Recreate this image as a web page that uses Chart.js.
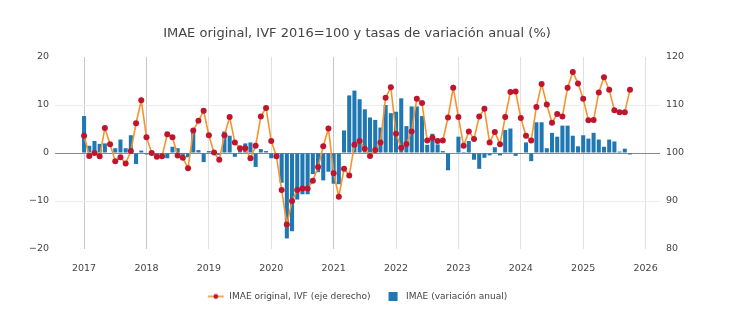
<!DOCTYPE html>
<html>
<head>
<meta charset="utf-8">
<script src="https://cdn.jsdelivr.net/npm/chart.js@4/dist/chart.umd.min.js"></script>
<style>
html,body{margin:0;padding:0;background:#fff;}
#wrap{width:730px;height:325px;position:relative;}
</style>
</head>
<body>
<div id="wrap"><canvas id="c" width="730" height="325"></canvas></div>
<script>
// IMAE original, IVF 2016=100 (right axis), monthly Jan 2017 - Oct 2025
const ivf = [
  103.6, 99.4, 100.0, 99.3, 105.2, 101.8, 98.3, 99.1, 97.8, 100.4, 106.2, 111.0,
  103.3, 100.0, 99.2, 99.3, 103.9, 103.3, 99.5, 99.0, 96.8, 104.7, 106.7, 108.8,
  103.7, 100.1, 98.6, 103.7, 107.5, 102.2, 101.0, 101.0, 98.9, 101.5, 107.6, 109.4,
  102.5, 99.3, 92.3, 85.1, 90.0, 92.3, 92.6, 92.6, 94.2, 97.1, 101.4, 105.1,
  95.8, 90.9, 96.7, 95.3, 101.7, 102.5, 100.9, 99.4, 100.6, 102.2, 111.5, 113.7,
  104.0, 101.1, 101.9, 104.5, 111.3, 110.4, 102.6, 103.2, 102.5, 102.6, 107.4, 113.6,
  107.5, 101.5, 104.5, 102.9, 107.6, 109.2, 102.2, 104.4, 101.8, 107.5, 112.7, 112.8,
  107.3, 103.6, 102.6, 109.6, 114.4, 110.1, 106.3, 108.1, 107.6, 113.6, 116.9, 114.5,
  111.3, 106.8, 106.9, 112.6, 115.8, 113.2, 108.9, 108.5, 108.5, 113.2
];
// IMAE annual variation (%) (left axis)
const varAnual = [
  7.7, 1.5, 2.5, 1.9, 2.0, -0.2, 1.0, 2.8, 1.0, 3.7, -2.3, 0.5,
  -0.3, 0.4, -0.4, -0.7, -1.1, 1.3, 1.0, -0.4, -0.9, 4.6, 0.6, -1.9,
  0.4, 0.4, -0.4, 4.5, 3.6, -0.8, 1.4, 2.0, 2.2, -2.9, 0.8, 0.4,
  -1.1, -1.1, -6.2, -17.8, -16.3, -9.7, -8.6, -8.6, -4.4, -4.0, -5.7, -3.9,
  -6.4, -6.5, 4.7, 12.0, 13.0, 11.2, 9.1, 7.4, 6.9, 5.3, 10.0, 8.3,
  8.6, 11.4, 5.6, 9.7, 9.7, 7.7, 1.7, 4.0, 1.8, 0.4, -3.6, 0.0,
  3.4, 0.2, 2.5, -1.4, -3.3, -1.0, -0.5, 1.2, -0.5, 4.8, 5.1, -0.6,
  -0.2, 2.2, -1.7, 6.4, 6.4, 1.0, 4.2, 3.4, 5.7, 5.7, 3.6, 1.4,
  3.7, 3.0, 4.2, 2.8, 1.3, 2.8, 2.4, 0.3, 0.9, -0.3
];
// categories: months "YYYY-MM"
const firstYear = 2017;
const months = ivf.map((_, i) => (firstYear + Math.floor(i / 12)) + '-' + String(i % 12 + 1).padStart(2, '0'));
const yearTicks = [2017, 2018, 2019, 2020, 2021, 2022, 2023, 2024, 2025, 2026];
const leftTicks = [-20, -10, 0, 10, 20];
const rightTicks = [80, 90, 100, 110, 120];

const titleText = 'IMAE original, IVF 2016=100 y tasas de variación anual (%)';
const lineLabel = 'IMAE original, IVF (eje derecho)';
const barLabel = 'IMAE (variación anual)';

const ORANGE = '#f7932a';
const RED = '#c0152f';
const BLUE = '#1f77b4';
const FONT = 'DejaVu Sans';

function monthToX(s) {
  const [y, m] = s.split('-').map(Number);
  return y + (m - 1) / 12;
}
const lineData = months.map((m, i) => ({x: monthToX(m), y: ivf[i]}));
const barData = months.map((m, i) => ({x: monthToX(m), y: varAnual[i]}));

// legend symbols
function lineSymbol() {
  const c = document.createElement('canvas');
  c.width = 18; c.height = 8;
  const g = c.getContext('2d');
  g.strokeStyle = ORANGE; g.lineWidth = 1.6;
  g.beginPath(); g.moveTo(1, 4); g.lineTo(17, 4); g.stroke();
  g.fillStyle = RED; g.beginPath(); g.arc(9, 4, 2.4, 0, Math.PI * 2); g.fill();
  return c;
}
function squareSymbol() {
  const c = document.createElement('canvas');
  c.width = 18; c.height = 9;
  const g = c.getContext('2d');
  g.fillStyle = BLUE; g.fillRect(5, 0, 9, 9);
  return c;
}
const symLine = lineSymbol();
const symSq = squareSymbol();

const PAD_RIGHT = 16;
const AREA_LEFT = 55, AREA_RIGHT = 660, AREA_BOTTOM = 249;
const LEGEND_BOTTOM_PAD = 14;

new Chart(document.getElementById('c'), {
  data: {
    datasets: [
      {
        type: 'line',
        label: lineLabel,
        data: lineData,
        yAxisID: 'y1',
        borderColor: ORANGE,
        borderWidth: 1.6,
        backgroundColor: RED,
        pointBackgroundColor: RED,
        pointBorderWidth: 0,
        pointRadius: 3,
        tension: 0,
        order: 0
      },
      {
        type: 'bar',
        label: barLabel,
        data: barData,
        yAxisID: 'y',
        backgroundColor: BLUE,
        borderWidth: 0,
        categoryPercentage: 1.0,
        barPercentage: 0.78,
        order: 1
      }
    ]
  },
  options: {
    responsive: false,
    animation: false,
    devicePixelRatio: 1,
    layout: {padding: {left: 0, right: PAD_RIGHT, top: 0, bottom: LEGEND_BOTTOM_PAD}},
    plugins: {
      title: {
        display: true,
        text: titleText,
        color: '#444',
        font: {family: FONT, size: 13, weight: 'normal'},
        padding: {top: 25.5, bottom: 15.9}
      },
      legend: {
        display: true,
        position: 'bottom',
        labels: {
          color: '#444',
          font: {family: FONT, size: 9},
          usePointStyle: true,
          pointStyleWidth: 18,
          padding: 13,
          generateLabels(chart) {
            const items = Chart.defaults.plugins.legend.labels.generateLabels(chart);
            items.forEach(it => {
              it.pointStyle = it.datasetIndex === 0 ? symLine : symSq;
            });
            return items;
          }
        }
      },
      tooltip: {enabled: false}
    },
    scales: {
      x: {
        type: 'linear',
        offset: false,
        min: 2016.534,
        max: 2026.231,
        afterBuildTicks(s) { s.ticks = yearTicks.map(v => ({value: v})); },
        afterFit(s) { s.height = 325 - LEGEND_BOTTOM_PAD - s.chart.legend.height - AREA_BOTTOM; },
        ticks: {
          color: '#444',
          font: {family: FONT, size: 9.5},
          padding: 14,
          maxRotation: 0,
          autoSkip: false,
          callback: v => String(v)
        },
        grid: {
          offset: false,
          color: ctx => (ctx.tick && (ctx.tick.value === 2017 || ctx.tick.value === 2018 || ctx.tick.value === 2021)) ? '#c8c8c8' : '#e0e0e0',
          lineWidth: 1,
          drawTicks: false
        },
        border: {display: false}
      },
      y: {
        type: 'linear',
        position: 'left',
        min: -20,
        max: 20,
        afterBuildTicks(s) { s.ticks = leftTicks.map(v => ({value: v})); },
        afterFit(s) { s.width = AREA_LEFT; },
        ticks: {
          color: '#444',
          font: {family: FONT, size: 9.5},
          padding: 6,
          callback: v => (v < 0 ? '\u2212' + Math.abs(v) : String(v))
        },
        grid: {
          color: ctx => {
            const v = ctx.tick ? ctx.tick.value : null;
            if (v === 0) return '#8a8a8a';
            if (v === 20 || v === -20) return 'rgba(0,0,0,0)';
            return '#ececec';
          },
          lineWidth: 1,
          drawTicks: false
        },
        border: {display: false}
      },
      y1: {
        type: 'linear',
        position: 'right',
        min: 80,
        max: 120,
        afterBuildTicks(s) { s.ticks = rightTicks.map(v => ({value: v})); },
        afterFit(s) { s.width = 730 - PAD_RIGHT - AREA_RIGHT; },
        ticks: {
          color: '#444',
          font: {family: FONT, size: 9.5},
          padding: 6,
          callback: v => String(v)
        },
        grid: {drawOnChartArea: false, drawTicks: false},
        border: {display: false}
      }
    }
  }
});
</script>
</body>
</html>
